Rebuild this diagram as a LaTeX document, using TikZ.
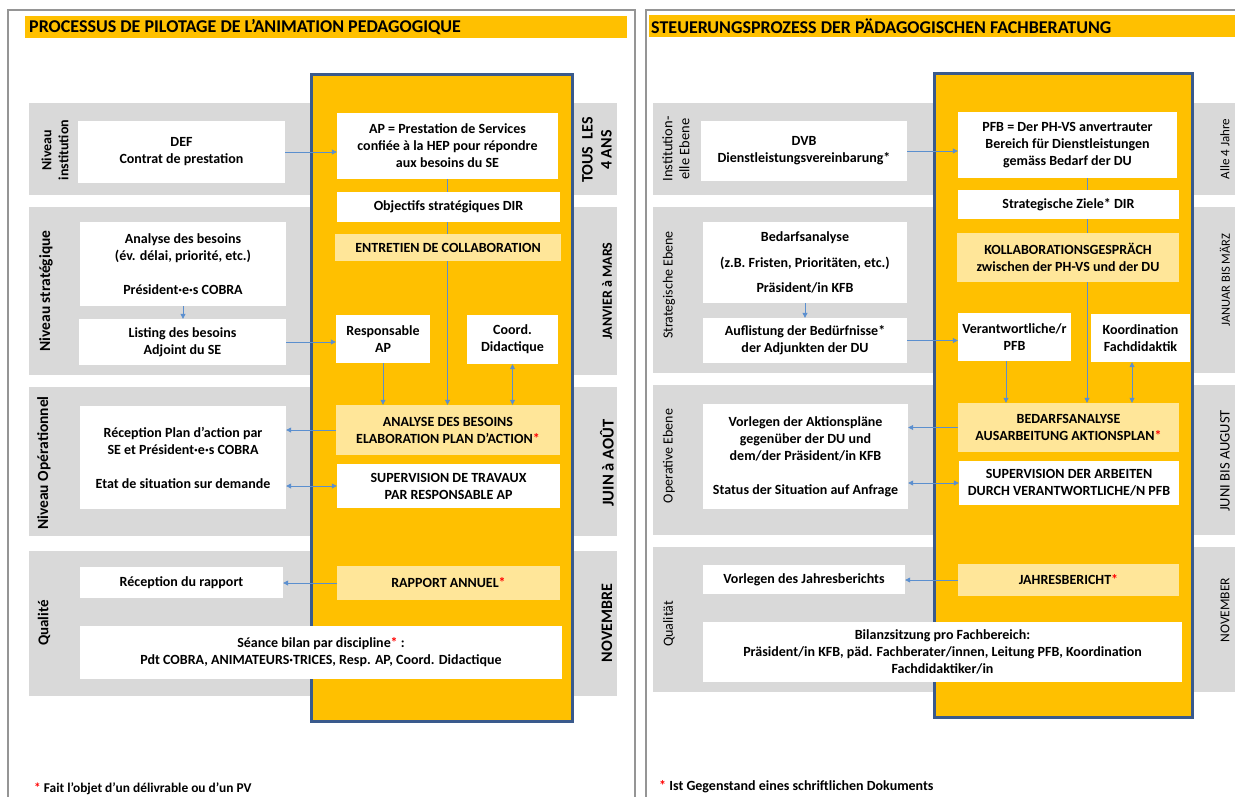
\documentclass[tikz,border=0pt]{standalone}
\usepackage{fontspec}
\setmainfont{Carlito}
\usetikzlibrary{arrows.meta}
\definecolor{org}{HTML}{FFC000}
\definecolor{lyel}{HTML}{FFE699}
\definecolor{band}{HTML}{D9D9D9}
\definecolor{colb}{HTML}{3A5A8C}
\definecolor{arr}{HTML}{5B8FCF}
\definecolor{frm}{HTML}{959595}
\definecolor{ast}{HTML}{FF0000}
\pgfdeclarelayer{bg}
\pgfdeclarelayer{lines}
\pgfsetlayers{bg,lines,main}
\begin{document}
\begin{tikzpicture}[x=1pt,y=-1pt,
 wbox/.style={fill=white, inner sep=2pt, align=center, font=\bfseries\fontsize{14}{17}\selectfont},
 ybox/.style={wbox, fill=lyel},
 conn/.style={draw=arr, line width=0.8pt, -{Triangle[length=5pt,width=5pt]}},
 dconn/.style={draw=arr, line width=0.8pt, {Triangle[length=5pt,width=5pt]}-{Triangle[length=5pt,width=5pt]}},
 sidel/.style={rotate=90, align=center, inner sep=0pt, font=\bfseries\fontsize{15.5}{16}\selectfont},
 sider/.style={rotate=90, align=center, inner sep=0pt, font=\fontsize{14}{16}\selectfont},
 ttl/.style={anchor=west, inner sep=0pt, font=\bfseries\fontsize{18}{20}\selectfont},
 fnote/.style={anchor=west, inner sep=0pt, font=\bfseries\fontsize{14}{16}\selectfont},
 bandfill/.style={fill=band},
 colfill/.style={fill=org, draw=colb, line width=3pt},
 frame/.style={draw=frm, line width=1.6pt}
]
\useasboundingbox (0,0) rectangle (1235,796);

% ---------- backgrounds ----------
\begin{pgfonlayer}{bg}
\fill[white] (0,0) rectangle (1235,796);
\draw[frame] (8,10) rectangle (635,810);
\draw[frame] (646,10) rectangle (1250,810);
\fill[org] (25,16) rectangle (627,38);
\fill[org] (649,15) rectangle (1235,37);
% left bands
\fill[bandfill] (29,103) rectangle (617,195);
\fill[bandfill] (29,207) rectangle (617,375);
\fill[bandfill] (29,387) rectangle (617,536);
\fill[bandfill] (29,551) rectangle (617,696);
% right bands
\fill[bandfill] (653,103) rectangle (1240,195);
\fill[bandfill] (653,207) rectangle (1240,373);
\fill[bandfill] (653,385) rectangle (1240,535);
\fill[bandfill] (653,547) rectangle (1240,692);
% columns
\draw[colfill] (311,74) rectangle (572,721);
\draw[colfill] (934,73) rectangle (1192,717);
\end{pgfonlayer}

% ---------- titles ----------
\node[ttl] (t1) at (29,27) {PROCESSUS DE PILOTAGE DE L’ANIMATION PEDAGOGIQUE};
\node[ttl] (t2) at (651,26) {STEUERUNGSPROZESS DER PÄDAGOGISCHEN FACHBERATUNG};

% ---------- left boxes ----------
\node[wbox,minimum width=207pt,minimum height=62pt] (def) at (181.5,152) {DEF\\Contrat de prestation};
\node[wbox,minimum width=221pt,minimum height=66pt] (ap) at (447.5,146) {AP = Prestation de Services\\confiée à la HEP pour répondre\\aux besoins du SE};
\node[wbox,minimum width=223pt,minimum height=30pt] (obj) at (448.5,207) {Objectifs stratégiques DIR};
\node[ybox,minimum width=226pt,minimum height=27pt] (ent) at (448,247.5) {ENTRETIEN DE COLLABORATION};
\node[wbox,minimum width=206pt,minimum height=84pt] (anb) at (183,264) {Analyse des besoins\\(év. délai, priorité, etc.)\\[17pt]Président·e·s COBRA};
\node[wbox,minimum width=207pt,minimum height=46pt] (lst) at (182.5,342) {Listing des besoins\\Adjoint du SE};
\node[wbox,minimum width=94pt,minimum height=48pt] (resp) at (383,339) {Responsable\\AP};
\node[wbox,minimum width=91pt,minimum height=49pt] (coord) at (512.5,339.5) {Coord.\\Didactique};
\node[ybox,minimum width=224pt,minimum height=50pt] (anp) at (448,430) {ANALYSE DES BESOINS\\ELABORATION PLAN D’ACTION\textcolor{ast}{*}};
\node[wbox,minimum width=206pt,minimum height=103pt] (rec) at (183,457.5) {Réception Plan d’action par\\SE et Président·e·s COBRA\\[17pt]Etat de situation sur demande};
\node[wbox,minimum width=223pt,minimum height=44pt] (sup) at (448.5,486) {SUPERVISION DE TRAVAUX\\PAR RESPONSABLE AP};
\node[wbox,minimum width=203pt,minimum height=31pt] (rr) at (181.5,582.5) {Réception du rapport};
\node[ybox,minimum width=223pt,minimum height=34pt] (ra) at (448.5,583) {RAPPORT ANNUEL\textcolor{ast}{*}};
\node[wbox,minimum width=482pt,minimum height=53pt] (sb) at (321,652.5) {Séance bilan par discipline\textcolor{ast}{*} :\\Pdt COBRA, ANIMATEURS·TRICES, Resp. AP, Coord. Didactique};

% left side labels
\node[sidel, font=\bfseries\fontsize{14}{17}\selectfont] (l1) at (55,150) {Niveau\\institution};
\node[sidel] (l2) at (46,291) {Niveau stratégique};
\node[sidel] (l3) at (44,463) {Niveau Opérationnel};
\node[sidel, font=\bfseries\fontsize{15}{16}\selectfont] (l4) at (44,623) {Qualité};
\node[sidel, font=\bfseries\fontsize{16}{19}\selectfont] (m1) at (597,150) {TOUS\ \ LES\\4 ANS};
\node[sidel, font=\bfseries\fontsize{14}{16}\selectfont] (m2) at (607,291) {JANVIER à MARS};
\node[sidel, font=\bfseries\fontsize{16.5}{18}\selectfont] (m3) at (607,463) {JUIN à AOÛT};
\node[sidel, font=\bfseries\fontsize{16}{18}\selectfont] (m4) at (607,623) {NOVEMBRE};

% ---------- right boxes ----------
\node[wbox,minimum width=206pt,minimum height=60pt] (dvb) at (804,151) {DVB\\Dienstleistungsvereinbarung*};
\node[wbox,minimum width=219pt,minimum height=66pt] (pfb) at (1067.5,145) {PFB = Der PH-VS anvertrauter\\Bereich für Dienstleistungen\\gemäss Bedarf der DU};
\node[wbox,minimum width=221pt,minimum height=29pt] (zie) at (1068.5,204.5) {Strategische Ziele* DIR};
\node[ybox,minimum width=222pt,minimum height=49pt] (kol) at (1068,257.5) {KOLLABORATIONSGESPRÄCH\\zwischen der PH-VS und der DU};
\node[wbox,minimum width=204pt,minimum height=81pt] (bed) at (805,262.5) {Bedarfsanalyse\\[9pt](z.B. Fristen, Prioritäten, etc.)\\[8pt]Präsident/in KFB};
\node[wbox,minimum width=204pt,minimum height=45pt] (auf) at (805,340.5) {Auflistung der Bedürfnisse*\\der Adjunkten der DU};
\node[wbox,minimum width=113pt,minimum height=48pt] (ver) at (1014.5,337) {Verantwortliche/r\\PFB};
\node[wbox,minimum width=99pt,minimum height=48pt] (koo) at (1140.5,338) {Koordination\\Fachdidaktik};
\node[ybox,minimum width=221pt,minimum height=49pt] (bed2) at (1068.5,427.5) {BEDARFSANALYSE\\AUSARBEITUNG AKTIONSPLAN\textcolor{ast}{*}};
\node[wbox,minimum width=205pt,minimum height=105pt] (vor) at (805.5,456.5) {Vorlegen der Aktionspläne\\gegenüber der DU und\\dem/der Präsident/in KFB\\[17pt]Status der Situation auf Anfrage};
\node[wbox,minimum width=220pt,minimum height=44pt] (sup2) at (1069,483) {SUPERVISION DER ARBEITEN\\DURCH VERANTWORTLICHE/N PFB};
\node[wbox,minimum width=202pt,minimum height=29pt] (vjb) at (804,579.5) {Vorlegen des Jahresberichts};
\node[ybox,minimum width=221pt,minimum height=32pt] (jb) at (1068.5,580) {JAHRESBERICHT\textcolor{ast}{*}};
\node[wbox,minimum width=479pt,minimum height=60pt] (bil) at (942.5,652) {Bilanzsitzung pro Fachbereich:\\Präsident/in KFB, päd. Fachberater/innen, Leitung PFB, Koordination\\Fachdidaktiker/in};

% right side labels
\node[sider, font=\fontsize{14.5}{17}\selectfont] (r1) at (676,149) {Institution-\\elle Ebene};
\node[sider] (r2) at (669,285) {Strategische Ebene};
\node[sider] (r3) at (669,456) {Operative Ebene};
\node[sider] (r4) at (669,624) {Qualität};
\node[sider, font=\fontsize{13}{15}\selectfont] (n1) at (1225,149) {Alle 4 Jahre};
\node[sider, font=\fontsize{12.5}{14}\selectfont] (n2) at (1225,280) {JANUAR BIS MÄRZ};
\node[sider, font=\fontsize{14.5}{16}\selectfont] (n3) at (1225,461) {JUNI BIS AUGUST};
\node[sider, font=\fontsize{13.5}{16}\selectfont] (n4) at (1225,610) {NOVEMBER};

% footnotes
\node[fnote, font=\bfseries\fontsize{13.4}{16}\selectfont] (f1) at (34,789) {\textcolor{ast}{*} Fait l’objet d’un délivrable ou d’un PV};
\node[fnote] (f2) at (659,787) {\textcolor{ast}{*} Ist Gegenstand eines schriftlichen Dokuments};

% ---------- connectors ----------
\coordinate (px) at (1087,0);
\coordinate (vx) at (1006,0);
\coordinate (kx) at (1132,0);
\begin{pgfonlayer}{lines}
\draw[conn] (def.east) -- (def.east -| ap.west);
\draw[conn] (ap.south) -- (ap.south |- anp.north);
\draw[conn] (anb.south) -- (anb.south |- lst.north);
\draw[conn] (lst.east) -- (lst.east -| resp.west);
\draw[conn] (resp.south) -- (resp.south |- anp.north);
\draw[dconn] (coord.south) -- (coord.south |- anp.north);
\draw[conn] (anp.west) -- (anp.west -| rec.east);
\draw[dconn] (sup.west) -- (sup.west -| rec.east);
\draw[conn] (ra.west) -- (ra.west -| rr.east);

\draw[conn] (dvb.east) -- (dvb.east -| pfb.west);
\draw[conn] (pfb.south -| px) -- (px |- bed2.north);
\draw[conn] (bed.south) -- (bed.south |- auf.north);
\draw[conn] (auf.east) -- (auf.east -| ver.west);
\draw[conn] (ver.south -| vx) -- (vx |- bed2.north);
\draw[dconn] (koo.south -| kx) -- (kx |- bed2.north);
\draw[conn] (bed2.west) -- (bed2.west -| vor.east);
\draw[dconn] (sup2.west) -- (sup2.west -| vor.east);
\draw[conn] (jb.west) -- (jb.west -| vjb.east);
\end{pgfonlayer}
\end{tikzpicture}
\end{document}
